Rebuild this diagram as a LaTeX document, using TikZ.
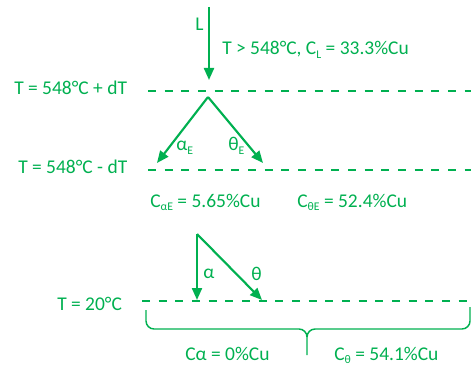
\documentclass[tikz,border=0pt]{standalone}
\usepackage{fontspec}
\setmainfont{Carlito}
\usetikzlibrary{arrows.meta}
\definecolor{labgreen}{RGB}{0,176,80}
\newcommand{\lowidx}[1]{\raisebox{-2.4pt}{\fontsize{8.8}{10}\selectfont #1}}
\begin{document}
\begin{tikzpicture}[x=0.75pt,y=-0.75pt,
  every node/.style={text=labgreen,font=\fontsize{14.6}{18}\selectfont,inner sep=0pt,anchor=base west},
  flow/.style={draw=labgreen,line width=1.6pt,-{Triangle[length=9pt,width=7.5pt]}},
  level/.style={draw=labgreen,line width=1.6pt,dash pattern=on 6pt off 6.5pt},
  bracket/.style={draw=labgreen,line width=1.1pt}]
\useasboundingbox (0,0) rectangle (471,367);
% temperature levels
\foreach \y/\x/\name in {91/148/plus, 170/148/minus, 301/142/room}
  \draw[level] (\x,\y) coordinate (\name W) -- (471,\y) coordinate (\name E);
\node (lvlplus) at (14,95) {T = 548°C + dT};
\node (lvlminus) at (18,174) {T = 548°C - dT};
\node (lvlroom) at (57,310) {T = 20°C};
% liquid
\coordinate (liqtop) at (209,7);
\coordinate (liqtip) at (209,80);
\draw[flow] (liqtop) -- (liqtip);
\node (liq) at (195,31) {L};
\node (liqcomp) at (222,55) {T > 548°C, C\lowidx{L} = 33.3\%Cu};
% eutectic reaction
\coordinate (apex) at (208,97);
\coordinate (alphaEtip) at (157,163);
\coordinate (thetaEtip) at (263,163);
\draw[flow] (apex) -- (alphaEtip);
\draw[flow] (apex) -- (thetaEtip);
\node (alphaE) at (176,151) {α\lowidx{E}};
\node (thetaE) at (228,151) {θ\lowidx{E}};
\node (alphaEcomp) at (150,207) {C\lowidx{αE} = 5.65\%Cu};
\node (thetaEcomp) at (297,207) {C\lowidx{θE} = 52.4\%Cu};
% room temperature
\coordinate (top) at (197,234);
\coordinate (alphatip) at (197,300);
\coordinate (thetatip) at (262,300);
\draw[flow] (top) -- (alphatip);
\draw[flow] (top) -- (thetatip);
\node (alpha) at (203,278) {α};
\node (theta) at (251,280) {θ};
% bracket under the room level
\coordinate (brL) at (146,310);
\coordinate (brM) at (307,355);
\coordinate (brR) at (470,307);
\draw[bracket] (brL) -- (146,321) to[out=-90,in=180] (154,329) -- (299,329)
  to[out=0,in=90] (307,337) -- (brM);
\draw[bracket] (307,337) to[out=90,in=180] (315,329) -- (462,329)
  to[out=0,in=-90] (brR |- 0,321) -- (brR);
\node (alphacomp) at (185,360) {Cα = 0\%Cu};
\node (thetacomp) at (334,360) {C\lowidx{θ} = 54.1\%Cu};
\end{tikzpicture}
\end{document}
